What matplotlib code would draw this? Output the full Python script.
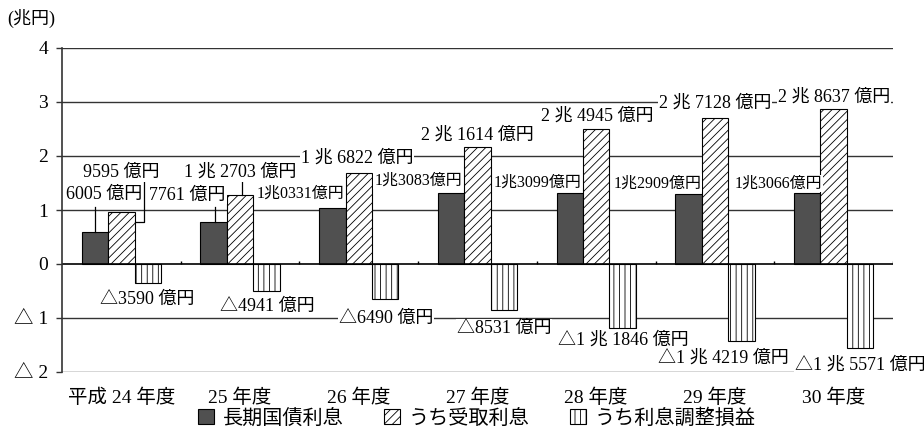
import numpy as np
import matplotlib
matplotlib.use("Agg")
from matplotlib import pyplot as plt

plt.rcParams['font.family'] = ['Liberation Serif', 'Noto Sans CJK JP', 'DejaVu Sans']
plt.rcParams['hatch.linewidth'] = 0.6

# 単位: 兆円
years = ['平成 24 年度', '25 年度', '26 年度', '27 年度', '28 年度', '29 年度', '30 年度']
choki = [0.6005, 0.7761, 1.0331, 1.3083, 1.3099, 1.2909, 1.3066]
uketori = [0.9595, 1.2703, 1.6822, 2.1614, 2.4945, 2.7128, 2.8637]
chosei = [-0.3590, -0.4941, -0.6490, -0.8531, -1.1846, -1.4219, -1.5571]
series_names = ['長期国債利息', 'うち受取利息', 'うち利息調整損益']
yticks = [-2, -1, 0, 1, 2, 3, 4]
ytick_labels = ['△ 2', '△ 1', '0', '1', '2', '3', '4']

# label offsets in pixels from the bar end (dx, dy)
offsets = [
    [(9, 37), (-26, 27), (-32, 15), (-33, 13), (-32, 11), (-31, 11), (-29, 10)],
    [(0, 40), (0, 23), (-2, 15), (0, 12), (1, 13), (0, 14), (0, 12)],
    [(-1, -16), (1, -16), (1, -19), (0, -18), (1, -12), (-18, -17), (0, -17)],
]


def fmt(v, small):
    oku = int(round(abs(v) * 10000))
    cho, rest = divmod(oku, 10000)
    head = '△' if v < 0 else ''
    if cho == 0:
        return head + f'{rest} 億円'
    if small:
        return head + f'{cho}兆{rest:04d}億円'
    return head + f'{cho} 兆 {rest:04d} 億円'


fig = plt.figure(figsize=(9.24, 4.32), dpi=100)
ax = fig.add_axes([62/924, 1-372/432, 831/924, 324/432])

x = np.arange(len(years))
w = 0.223
gray = '#333333'
b0 = ax.bar(x - w, choki, w, color='#505050', edgecolor='black', lw=0.8, zorder=2)
b1 = ax.bar(x, uketori, w, color='white', edgecolor='black', hatch='////', lw=0.8, zorder=2)
b2 = ax.bar(x + w, chosei, w, color='white', edgecolor='black', hatch='|||', lw=0.8, zorder=2)

ax.set_xlim(-0.5, len(years) - 0.5)
ax.set_ylim(-2, 4)
for yv in yticks:
    if yv == 0:
        continue
    ax.axhline(yv, color=gray, lw=1.0, zorder=0)
ax.axhline(0, color='black', lw=1.2, zorder=2.5)
ax.vlines(np.arange(len(years)) + 0.5, 0, 0.06, color='black', lw=1.0, zorder=2.5)

for s in ['top', 'right', 'bottom']:
    ax.spines[s].set_visible(False)
ax.spines['left'].set_color(gray)
ax.spines['left'].set_linewidth(1.2)
ax.set_yticks(yticks)
ax.set_yticklabels(ytick_labels, fontsize=14)
ax.tick_params(axis='y', length=4, width=1.0, color=gray, pad=6)
ax.set_xticks(x)
ax.set_xticklabels(years, fontsize=14)
ax.tick_params(axis='x', length=0, pad=12)

for s, (vals, dx) in enumerate(zip([choki, uketori, chosei], [-w, 0, w])):
    for i, v in enumerate(vals):
        small = (s == 0 and abs(v) >= 1)
        ox, oy = offsets[s][i]
        ax.annotate(fmt(v, small), xy=(i + dx, v), xytext=(ox, oy),
                    textcoords='offset pixels', ha='center', va='center',
                    fontsize=11.5 if small else 13, zorder=3, annotation_clip=False,
                    bbox=dict(boxstyle='square,pad=0.05', fc='white', ec='none'))

# leader lines
lk = dict(color='black', lw=0.9, zorder=2)
ax.plot([0 - w, 0 - w], [choki[0], choki[0] + 0.45], **lk)
ax.plot([1 - w + 0.01, 1 - w + 0.01], [choki[1], choki[1] + 0.28], **lk)
ax.plot([1 + 0.02, 1 + 0.02], [uketori[1], uketori[1] + 0.25], **lk)
ax.plot([w / 2, w / 2 + 0.08, w / 2 + 0.08],
        [uketori[0] - 0.18, uketori[0] - 0.18, uketori[0] + 0.55], **lk)

fig.text(7/924, 1-18/432, '(兆円)', fontsize=13, ha='left', va='center')

fig.legend([b0, b1, b2], series_names, loc='center', bbox_to_anchor=(477/924, 1-419/432),
           ncol=3, frameon=False, fontsize=14.5, handlelength=0.78, handleheight=0.78,
           handletextpad=0.45, columnspacing=2.0, borderpad=0)

fig.savefig('out.png', dpi=100)
